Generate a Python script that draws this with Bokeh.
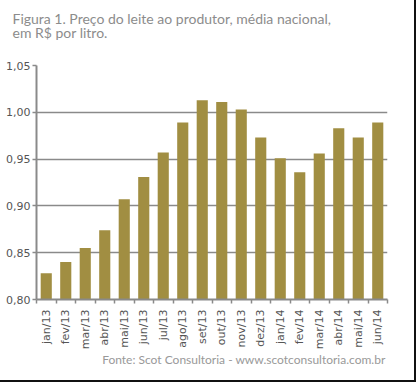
from bokeh.plotting import figure
from bokeh.models import (Range1d, FixedTicker, CustomJSTickFormatter, Title, ColumnDataSource)
from bokeh.embed import file_html
from bokeh.resources import INLINE
from math import pi

months = ["jan/13", "fev/13", "mar/13", "abr/13", "mai/13", "jun/13", "jul/13", "ago/13", "set/13",
          "out/13", "nov/13", "dez/13", "jan/14", "fev/14", "mar/14", "abr/14", "mai/14", "jun/14"]
prices = [0.828, 0.840, 0.855, 0.874, 0.907, 0.931, 0.957, 0.989, 1.013,
          1.011, 1.003, 0.973, 0.951, 0.936, 0.956, 0.983, 0.973, 0.989]
y_ticks = [0.80, 0.85, 0.90, 0.95, 1.00, 1.05]
title_lines = ["Figura 1. Preço do leite ao produtor, média nacional,", "em R$ por litro."]
source_text = "Fonte: Scot Consultoria - www.scotconsultoria.com.br"

centers = [i + 0.5 for i in range(len(months))]
bounds = list(range(len(months) + 1))
src = ColumnDataSource(dict(x=centers, top=prices, m=months))

W, H = 416, 382
BW = 2  # frame-border (drawn with CSS, inside the element box)
FL, FR, FT, FB = 36, 385, 65, 297  # plot frame edges in canvas pixels
GRAY = "#8a8a8a"
p = figure(width=W, height=H, output_backend="svg", toolbar_location=None,
           x_range=Range1d(0, len(months)), y_range=Range1d(y_ticks[0], y_ticks[-1]),
           min_border_left=FL, min_border_right=W - BW - FR, min_border_top=FT,
           min_border_bottom=H - BW - FB,
           background_fill_color="white", border_fill_color="white")
p.outline_line_color = None

p.vbar(x="x", top="top", bottom=y_ticks[0], width=0.57, source=src,
       fill_color="#A18E42", line_color=None)

# y axis
p.yaxis.ticker = FixedTicker(ticks=y_ticks)
p.yaxis.formatter = CustomJSTickFormatter(code="return tick.toFixed(2).replace('.', ',');")
p.yaxis.axis_line_color = GRAY
p.yaxis.axis_line_width = 2
p.yaxis.major_tick_line_color = GRAY
p.yaxis.major_tick_line_width = 1.5
p.yaxis.major_tick_in = 0
p.yaxis.major_tick_out = 4
p.yaxis.minor_tick_line_color = None
p.yaxis.major_label_text_font = "DejaVu Sans"
p.yaxis.major_label_text_font_size = "11px"
p.yaxis.major_label_text_color = "#555555"
p.yaxis.major_label_standoff = 2

# x axis
p.xaxis.ticker = FixedTicker(ticks=centers, minor_ticks=bounds)
p.xaxis.major_label_overrides = {c: m for c, m in zip(centers, months)}
p.xaxis.major_label_orientation = pi / 2
p.xaxis.axis_line_color = GRAY
p.xaxis.axis_line_width = 2
p.xaxis.major_tick_line_color = None
p.xaxis.minor_tick_line_color = GRAY
p.xaxis.minor_tick_line_width = 1.5
p.xaxis.minor_tick_in = 0
p.xaxis.minor_tick_out = 4
p.xaxis.major_label_text_font = "DejaVu Sans"
p.xaxis.major_label_text_font_size = "11px"
p.xaxis.major_label_text_color = "#555555"
p.xaxis.major_label_standoff = 4

p.xgrid.grid_line_color = None
p.ygrid.ticker = FixedTicker(ticks=y_ticks)
p.ygrid.grid_line_color = GRAY
p.ygrid.grid_line_width = 1.5

# two-line header (default title); a spacer title added later sits between it and the frame
p.title.text = "\n".join(title_lines)
p.title.align = "left"
p.title.offset = 12 - FL
p.title.standoff = 0
p.title.text_font = "Lato"
p.title.text_font_style = "normal"
p.title.text_font_size = "14px"
p.title.text_color = "#8c8c8c"
p.title.text_line_height = 0.88
p.add_layout(Title(text=" ", text_font_size="1px", standoff=21), "above")

# source note below the axis
p.add_layout(Title(text=source_text, align="right", offset=2, standoff=-6,
                   text_font="Lato", text_font_style="normal", text_font_size="12px",
                   text_color="#999999"), "below")

p.styles = {"border-right": f"{BW}px solid #111111", "border-bottom": f"{BW}px solid #111111",
            "box-sizing": "border-box"}

open("out.html", "w").write(file_html(p, INLINE))
